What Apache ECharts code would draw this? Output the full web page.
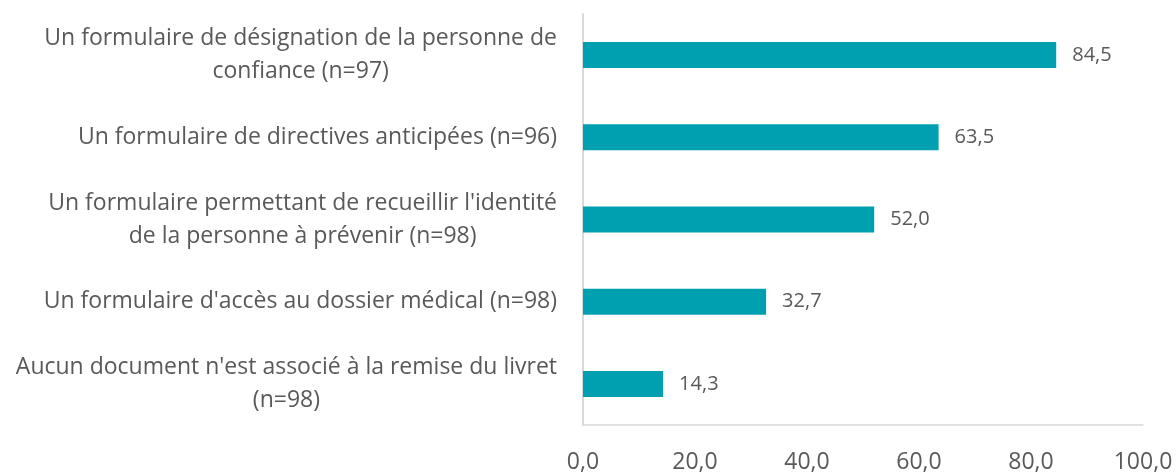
<!DOCTYPE html>
<html>
<head>
<meta charset="utf-8">
<script src="https://cdn.jsdelivr.net/npm/echarts@6/dist/echarts.min.js"></script>
<style>
html,body{margin:0;padding:0;background:#fff;}
#chart{width:1176px;height:472px;}
</style>
</head>
<body>
<div id="chart"></div>
<script>
const categories = [
  "Un formulaire de désignation de la personne de\nconfiance (n=97)",
  "Un formulaire de directives anticipées (n=96)",
  "Un formulaire permettant de recueillir l'identité\nde la personne à prévenir (n=98)",
  "Un formulaire d'accès au dossier médical (n=98)",
  "Aucun document n'est associé à la remise du livret\n(n=98)"
];
const values = [84.5, 63.5, 52.0, 32.7, 14.3];
const xTicks = [0, 20, 40, 60, 80, 100];

const fmt = v => v.toFixed(1).replace('.', ',');
const chart = echarts.init(document.getElementById('chart'), null, {renderer: 'canvas'});
chart.setOption({
  animation: false,
  backgroundColor: '#ffffff',
  textStyle: {fontFamily: 'Open Sans'},
  grid: {left: 583, right: 33, top: 14, bottom: 47, containLabel: false, outerBoundsMode: 'none'},
  xAxis: {
    type: 'value',
    min: xTicks[0],
    max: xTicks[xTicks.length - 1],
    interval: xTicks[1] - xTicks[0],
    axisLine: {show: true, lineStyle: {color: '#D9D9D9', width: 1.5}},
    axisTick: {show: false},
    splitLine: {show: false},
    axisLabel: {
      formatter: v => fmt(v),
      color: '#595959',
      fontSize: 23,
      fontFamily: 'Open Sans',
      margin: 26
    }
  },
  yAxis: {
    type: 'category',
    inverse: true,
    data: categories,
    axisLine: {show: true, lineStyle: {color: '#D9D9D9', width: 2}},
    axisTick: {show: false},
    axisLabel: {
      align: 'right',
      margin: 26,
      formatter: v => v.split('\n').map(s => '{a|' + s + '}').join('\n'),
      rich: {
        a: {
          color: '#595959',
          fontSize: 23,
          fontFamily: 'Open Sans',
          lineHeight: 33,
          align: 'center'
        }
      }
    }
  },
  series: [{
    type: 'bar',
    data: values,
    barWidth: 26,
    itemStyle: {color: '#00A0B0'},
    label: {
      show: true,
      position: 'right',
      distance: 16,
      formatter: p => fmt(p.value),
      color: '#595959',
      fontSize: 20,
      fontFamily: 'Open Sans'
    }
  }]
});
</script>
</body>
</html>
